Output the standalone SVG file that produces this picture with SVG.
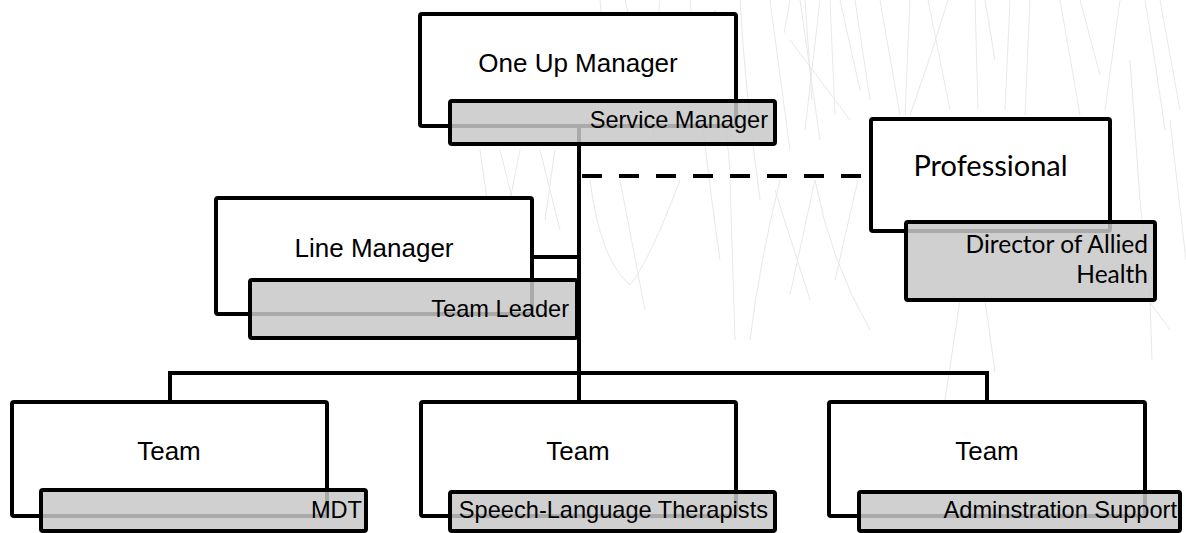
<svg xmlns="http://www.w3.org/2000/svg" width="1186" height="533" viewBox="0 0 1186 533">
<style>
.bg{fill:none;stroke:#e8e8e8;stroke-width:1}
.box{fill:#fff;stroke:#000;stroke-width:4;stroke-linejoin:round}
.sub{fill:#c8c8c8;fill-opacity:0.85;stroke:#000;stroke-width:4;stroke-linejoin:round}
.conn{fill:none;stroke:#000;stroke-width:4}
.h{font-family:"Liberation Sans",Arial,sans-serif;font-size:26px;fill:#000;text-anchor:middle}
.s{font-family:"Liberation Sans",Arial,sans-serif;font-size:23.6px;fill:#000;text-anchor:end}
.c{font-family:Lato,"Open Sans",sans-serif;fill:#000}
</style>
<g id="background">
<path class="bg" d="M600 0 L612 120"/>
<path class="bg" d="M625 0 Q640 60 655 140"/>
<path class="bg" d="M660 0 L648 110"/>
<path class="bg" d="M690 0 Q700 120 720 260"/>
<path class="bg" d="M715 10 L730 170"/>
<path class="bg" d="M740 0 Q745 90 760 200"/>
<path class="bg" d="M770 0 L790 150"/>
<path class="bg" d="M800 0 L820 140"/>
<path class="bg" d="M820 0 L805 130"/>
<path class="bg" d="M790 40 L850 120"/>
<path class="bg" d="M840 0 L860 90"/>
<path class="bg" d="M790 0 L784 33"/>
<path class="bg" d="M805 0 L812 100"/>
<path class="bg" d="M830 0 L835 115"/>
<path class="bg" d="M855 0 L870 100"/>
<path class="bg" d="M880 0 L900 115"/>
<path class="bg" d="M910 0 L905 115"/>
<path class="bg" d="M928 0 L950 110"/>
<path class="bg" d="M948 0 Q930 60 910 115"/>
<path class="bg" d="M975 0 L978 110"/>
<path class="bg" d="M985 0 L995 60"/>
<path class="bg" d="M1010 0 L1005 110"/>
<path class="bg" d="M1030 0 L1025 115"/>
<path class="bg" d="M1060 0 L1080 115"/>
<path class="bg" d="M1080 0 L1100 75"/>
<path class="bg" d="M1120 0 L1105 110"/>
<path class="bg" d="M1145 0 Q1155 60 1165 130"/>
<path class="bg" d="M1160 0 L1180 110"/>
<path class="bg" d="M1130 60 L1140 200 L1150 300"/>
<path class="bg" d="M1170 120 L1186 260"/>
<path class="bg" d="M1120 230 Q1130 280 1170 330"/>
<path class="bg" d="M590 180 Q600 260 630 285 Q650 260 680 180"/>
<path class="bg" d="M620 180 L645 310"/>
<path class="bg" d="M730 180 L735 340"/>
<path class="bg" d="M780 180 Q760 260 750 340"/>
<path class="bg" d="M775 190 L810 300"/>
<path class="bg" d="M815 180 L790 295"/>
<path class="bg" d="M815 180 Q830 260 870 330"/>
<path class="bg" d="M858 180 L835 280"/>
<path class="bg" d="M960 300 L945 400"/>
<path class="bg" d="M985 300 L995 372"/>
<path class="bg" d="M1150 300 L1152 360"/>
<path class="bg" d="M480 150 L490 220"/>
<path class="bg" d="M500 150 L520 230"/>
<path class="bg" d="M520 150 L505 225"/>
<path class="bg" d="M540 150 L560 230"/>
<path class="bg" d="M555 150 L545 220"/>
</g>
<g id="connectors">
<path class="conn" d="M579 128 V373"/>
<path class="conn" d="M534 257 H579"/>
<path class="conn" d="M582 176 H862" stroke-dasharray="20 17"/>
<path class="conn" d="M170 402 V373 H987 V402"/>
<path class="conn" d="M579 373 V402"/>
</g>
<g id="node-oneup">
<rect class="box" x="420" y="14" width="316" height="112" rx="2"/>
<text class="h" x="578" y="72">One Up Manager</text>
<rect class="sub" x="450" y="101" width="325" height="43" rx="2"/>
<text class="s" x="768" y="128">Service Manager</text>
</g>
<g id="node-professional">
<rect class="box" x="871" y="119" width="239" height="112" rx="2"/>
<text class="c" x="990.5" y="176" font-size="29" text-anchor="middle">Professional</text>
<rect class="sub" x="906" y="222" width="249" height="78" rx="2"/>
<text class="c" x="1148" y="253" font-size="24.5" text-anchor="end">Director of Allied</text>
<text class="c" x="1148" y="283" font-size="24.5" text-anchor="end">Health</text>
</g>
<g id="node-line">
<rect class="box" x="216" y="198" width="316" height="116" rx="2"/>
<text class="h" x="374" y="257">Line Manager</text>
<rect class="sub" x="250" y="280" width="327" height="58" rx="2"/>
<text class="s" x="569" y="317">Team Leader</text>
</g>
<g id="node-team1">
<rect class="box" x="12" y="402" width="315" height="114" rx="2"/>
<text class="h" x="169" y="460">Team</text>
<rect class="sub" x="41" y="490" width="325" height="41" rx="2"/>
<text class="s" x="362" y="518">MDT</text>
</g>
<g id="node-team2">
<rect class="box" x="421" y="402" width="315" height="114" rx="2"/>
<text class="h" x="578" y="460">Team</text>
<rect class="sub" x="450" y="492" width="325" height="39" rx="2"/>
<text class="s" x="768" y="518">Speech-Language Therapists</text>
</g>
<g id="node-team3">
<rect class="box" x="829" y="402" width="316" height="114" rx="2"/>
<text class="h" x="987" y="460">Team</text>
<rect class="sub" x="859" y="492" width="321" height="39" rx="2"/>
<text class="s" x="1177" y="518">Adminstration Support</text>
</g>
</svg>
